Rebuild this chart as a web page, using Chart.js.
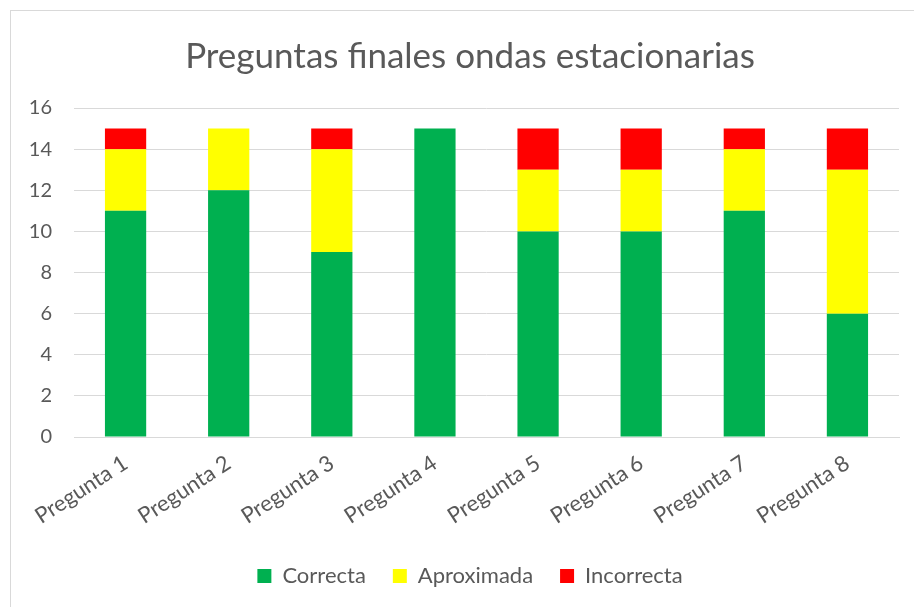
<!DOCTYPE html>
<html>
<head>
<meta charset="utf-8">
<script src="https://cdn.jsdelivr.net/npm/chart.js@4"></script>
<style>
  html, body { margin: 0; padding: 0; background: #fff; overflow: hidden; width: 914px; height: 607px; }
  #box { position: absolute; left: 10px; top: 10px; width: 918px; height: 610px; border: 1px solid #d9d9d9; background: #fff; }
  canvas { display: block; }
</style>
</head>
<body>
<div id="box"><canvas id="c" width="918" height="610"></canvas></div>
<script>
const titleText = 'Preguntas finales ondas estacionarias';
const categories = ['Pregunta 1', 'Pregunta 2', 'Pregunta 3', 'Pregunta 4', 'Pregunta 5', 'Pregunta 6', 'Pregunta 7', 'Pregunta 8'];
const correcta = [11, 12, 9, 15, 10, 10, 11, 6];
const aproximada = [3, 3, 5, 0, 3, 3, 3, 7];
const incorrecta = [1, 0, 1, 0, 2, 2, 1, 2];
const seriesNames = ['Correcta', 'Aproximada', 'Incorrecta'];
const seriesColors = ['#00B050', '#FFFF00', '#FF0000'];
const yTicks = [0, 2, 4, 6, 8, 10, 12, 14, 16];

const FONT = 'Lato, Carlito, Calibri, sans-serif';
const GRAY = '#595959';

const seriesValues = [correcta, aproximada, incorrecta];
new Chart(document.getElementById('c'), {
  type: 'bar',
  data: {
    labels: categories,
    datasets: seriesNames.map((n, i) => ({
      label: n,
      data: seriesValues[i],
      backgroundColor: seriesColors[i],
      borderWidth: 0,
      barPercentage: 0.4,
      categoryPercentage: 1.0
    }))
  },
  options: {
    responsive: false,
    animation: false,
    layout: { padding: { left: 0, right: 0, top: 0, bottom: 24 } },
    plugins: {
      title: {
        display: true,
        text: titleText,
        color: GRAY,
        font: { family: FONT, size: 35, weight: 'normal' },
        padding: { top: 25, bottom: 30 }
      },
      legend: {
        position: 'bottom',
        labels: {
          color: GRAY,
          font: { family: FONT, size: 22 },
          boxWidth: 14,
          boxHeight: 14,
          padding: 27
        }
      },
      tooltip: { enabled: false }
    },
    scales: {
      x: {
        stacked: true,
        grid: { display: false, drawTicks: false },
        border: { display: true, color: '#d9d9d9', width: 1 },
        ticks: {
          color: GRAY,
          font: { family: FONT, size: 22 },
          minRotation: 33,
          maxRotation: 33,
          padding: 13
        },
        afterFit: (s) => { s.height = 101; }
      },
      y: {
        stacked: true,
        min: 0,
        max: 16,
        afterBuildTicks: (s) => { s.ticks = yTicks.map(v => ({ value: v })); },
        grid: { color: '#d9d9d9', lineWidth: 1, drawTicks: false },
        border: { display: false },
        ticks: {
          color: GRAY,
          font: { family: FONT, size: 20 },
          padding: 22
        },
        afterFit: (s) => { s.width = 63; }
      },
      yRightSpace: {
        position: 'right',
        display: true,
        grid: { display: false, drawTicks: false },
        border: { display: false },
        ticks: { display: false },
        afterFit: (s) => { s.width = 30; }
      }
    }
  }
});
</script>
</body>
</html>
